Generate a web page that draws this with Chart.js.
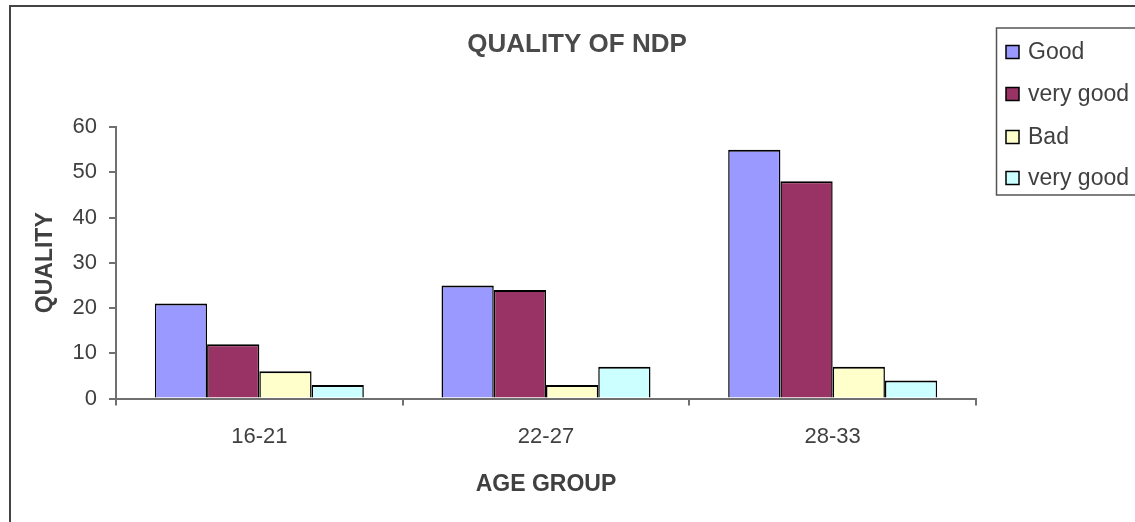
<!DOCTYPE html>
<html>
<head>
<meta charset="utf-8">
<script src="https://cdn.jsdelivr.net/npm/chart.js@4"></script>
<style>
  html, body { margin: 0; padding: 0; background: #fff; }
  #wrap { width: 1135px; height: 522px; }
</style>
</head>
<body>
<div id="wrap"><canvas id="c" width="1135" height="522"></canvas></div>
<script>
// Survey counts per age group
const ageGroups = ['16-21', '22-27', '28-33'];
const seriesNames = ['Good', 'very good', 'Bad', 'very good'];
const good = [21, 25, 55];
const veryGood = [12, 24, 48];
const bad = [6, 3, 7];
const veryGood2 = [3, 7, 4];
const seriesColors = ['#9999FF', '#993366', '#FFFFCC', '#CCFFFF'];
const yMin = 0, yMax = 60, yStep = 10;

const chartTitle = 'QUALITY OF NDP';
const xTitle = 'AGE GROUP';
const yTitle = 'QUALITY';

const FONT = '"Liberation Sans", Arial, Helvetica, sans-serif';
const TEXT = '#404040';
const AXIS = '#707070';

// White page, outer frame, chart title and the boxed legend
const decorations = {
  id: 'decorations',
  beforeDraw(chart) {
    const ctx = chart.ctx;
    ctx.save();
    ctx.fillStyle = '#ffffff';
    ctx.fillRect(0, 0, chart.width, chart.height);
    ctx.restore();
  },
  afterDraw(chart) {
    const ctx = chart.ctx;
    ctx.save();
    // outer frame
    ctx.strokeStyle = '#444444';
    ctx.lineWidth = 2;
    ctx.strokeRect(10, 6, 1140, 530);

    // title
    ctx.fillStyle = '#4a4a4a';
    ctx.font = 'bold 26px ' + FONT;
    ctx.textAlign = 'center';
    ctx.textBaseline = 'middle';
    ctx.fillText(chartTitle, 577, 45);

    // legend
    ctx.strokeStyle = '#555555';
    ctx.lineWidth = 1.5;
    ctx.strokeRect(996.5, 28, 150, 167);
    const rows = [52, 94, 137, 178];
    ctx.font = '23px ' + FONT;
    ctx.textAlign = 'left';
    chart.data.datasets.forEach((ds, i) => {
      const y = rows[i];
      ctx.fillStyle = ds.backgroundColor;
      ctx.fillRect(1006, y - 6.5, 13, 13);
      ctx.strokeStyle = '#000000';
      ctx.lineWidth = 1.5;
      ctx.strokeRect(1006, y - 6.5, 13, 13);
      ctx.fillStyle = TEXT;
      ctx.fillText(ds.label, 1028, y + 1);
    });
    ctx.restore();
  }
};

const datasetValues = [good, veryGood, bad, veryGood2];

new Chart(document.getElementById('c'), {
  type: 'bar',
  data: {
    labels: ageGroups,
    datasets: datasetValues.map((vals, i) => ({
      label: seriesNames[i],
      data: vals,
      backgroundColor: seriesColors[i],
      borderColor: '#000000',
      borderWidth: { top: 2, left: 1.5, right: 1.5, bottom: 0 },
      borderSkipped: 'start',
      categoryPercentage: 0.729,
      barPercentage: 1.0
    }))
  },
  options: {
    responsive: false,
    animation: false,
    devicePixelRatio: 1,
    layout: { padding: { left: 10, right: 159, top: 127, bottom: 0 } },
    plugins: {
      legend: { display: false },
      title: { display: false },
      tooltip: { enabled: false }
    },
    scales: {
      x: {
        afterFit(scale) { scale.height = 123.5; },
        grid: {
          offset: true,
          drawOnChartArea: false,
          drawTicks: true,
          tickLength: 7,
          color: AXIS,
          lineWidth: 2
        },
        border: { display: true, color: AXIS, width: 2 },
        ticks: {
          color: TEXT,
          font: { family: FONT, size: 22 },
          padding: 18
        },
        title: {
          display: true,
          text: xTitle,
          color: TEXT,
          font: { family: FONT, size: 23, weight: 'bold' },
          padding: { top: 0, bottom: 24 }
        }
      },
      y: {
        min: yMin,
        max: yMax,
        afterFit(scale) { scale.width = 106; },
        ticks: {
          stepSize: yStep,
          color: TEXT,
          font: { family: FONT, size: 22 },
          padding: 12
        },
        grid: {
          drawOnChartArea: false,
          drawTicks: true,
          tickLength: 7,
          color: AXIS,
          lineWidth: 2
        },
        border: { display: true, color: AXIS, width: 2 },
        title: {
          display: true,
          text: yTitle,
          color: TEXT,
          font: { family: FONT, size: 23, weight: 'bold' },
          padding: { top: 22, bottom: 0 }
        }
      }
    }
  },
  plugins: [decorations]
});
</script>
</body>
</html>
